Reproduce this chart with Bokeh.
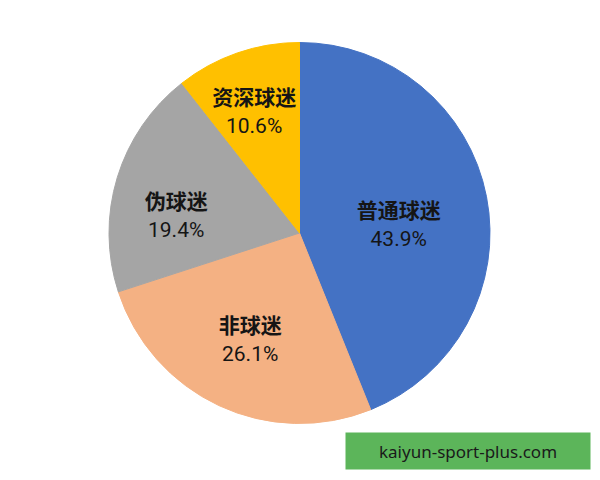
import math
from bokeh.plotting import figure
from bokeh.models import ColumnDataSource, Range1d, BoxAnnotation, Label
from bokeh.core.properties import value
from bokeh.embed import file_html
from bokeh.resources import INLINE

categories = ["普通球迷", "非球迷", "伪球迷", "资深球迷"]
shares = [43.9, 26.1, 19.4, 10.6]
colors = ["#4472C4", "#F4B183", "#A5A5A5", "#FFC000"]
watermark = "kaiyun-sport-plus.com"

# label nudges in screen pixels (layout style, not data)
nudge_x = [-13, -1, -14, -8]
nudge_y = [13, 2, 15, -14]

W, H = 592, 472
cx, cy, R = 299, 239.5, 190.5

total = sum(shares)
starts, ends, mids = [], [], []
acc = 0.0
for s in shares:
    a0 = math.pi / 2 - 2 * math.pi * acc / total
    acc += s
    a1 = math.pi / 2 - 2 * math.pi * acc / total
    starts.append(a0)
    ends.append(a1)
    mids.append((a0 + a1) / 2)

lr = 0.6 * R
lx = [cx + lr * math.cos(m) + dx for m, dx in zip(mids, nudge_x)]
ly = [cy + lr * math.sin(m) - dy for m, dy in zip(mids, nudge_y)]
pct = [f"{s:.1f}%" for s in shares]

src = ColumnDataSource(dict(start=starts, end=ends, color=colors,
                            name=categories, pct=pct, lx=lx, ly=ly))

p = figure(width=W, height=H, output_backend="svg", toolbar_location=None,
           x_range=Range1d(0, W), y_range=Range1d(0, H), min_border=0)
p.axis.visible = False
p.grid.visible = False
p.outline_line_color = None
p.background_fill_color = "white"

p.wedge(x=cx, y=cy, radius=R, start_angle="start", end_angle="end",
        direction="clock", fill_color="color", line_color="color", source=src)

p.text(x="lx", y="ly", text="name", source=src, text_align="center",
       text_baseline="middle", y_offset=-15, text_font=value("Noto Sans CJK SC"),
       text_font_size="21px", text_font_style="bold", text_color="#151515")
p.text(x="lx", y="ly", text="pct", source=src, text_align="center",
       text_baseline="middle", y_offset=15, text_font=value("Roboto"),
       text_font_size="21px", text_color="#151515")

box = BoxAnnotation(left=345, right=590, bottom=3, top=40,
                    fill_color="#5CB55A", fill_alpha=1.0, line_color=None)
p.add_layout(box)
p.add_layout(Label(x=467.5, y=21.5, text=watermark, text_align="center",
                   text_baseline="middle", text_font="Noto Sans",
                   text_font_size="17px", text_color="#1a1a1a"))

open("out.html", "w").write(file_html(p, INLINE))
